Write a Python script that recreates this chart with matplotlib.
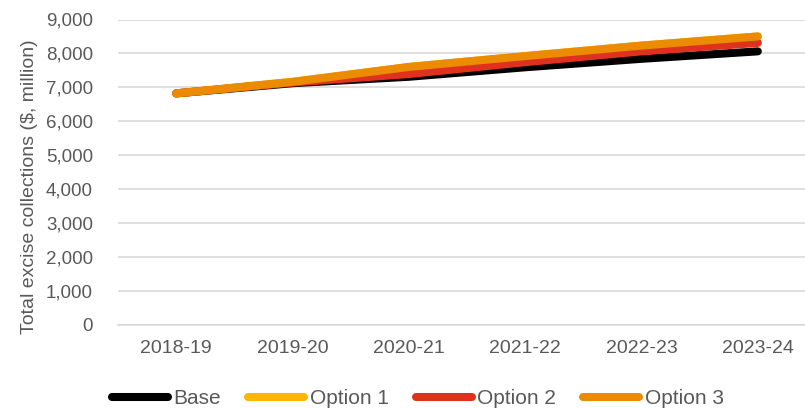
import matplotlib
matplotlib.use("Agg")
import matplotlib.pyplot as plt
from matplotlib.ticker import FuncFormatter

plt.rcParams["font.family"] = ["Liberation Sans", "DejaVu Sans"]

years = ["2018-19", "2019-20", "2020-21", "2021-22", "2022-23", "2023-24"]

base = [6820, 7120, 7310, 7590, 7840, 8060]
option_1 = [6820, 7160, 7600, 7920, 8230, 8500]
option_2 = [6820, 7140, 7390, 7740, 8060, 8310]
option_3 = [6820, 7160, 7600, 7920, 8230, 8500]

series = [
    ("Base", base, "#000000"),
    ("Option 1", option_1, "#FFB600"),
    ("Option 2", option_2, "#E0301E"),
    ("Option 3", option_3, "#EB8C00"),
]

TEXT = "#595959"
GRID = "#D9D9D9"

fig = plt.figure(figsize=(8.05, 4.08), dpi=100)
ax = fig.add_axes([118 / 805, 1 - 324.5 / 408, 698 / 805, 305 / 408])

x = list(range(len(years)))
for name, values, color in series:
    ax.plot(x, values, color=color, linewidth=5.8, solid_capstyle="round",
            solid_joinstyle="round", label=name)

ax.set_xlim(-0.5, len(years) - 0.5)
ax.set_ylim(0, 9000)
ax.set_yticks(range(0, 9001, 1000))
ax.yaxis.set_major_formatter(FuncFormatter(lambda v, _: f"{int(v):,}"))
ax.set_xticks(x)
ax.set_xticklabels(years)

ax.grid(axis="y", color=GRID, linewidth=1.2)
ax.set_axisbelow(True)
for side in ["top", "right", "left"]:
    ax.spines[side].set_visible(False)
ax.spines["bottom"].set_color(GRID)
ax.spines["bottom"].set_linewidth(1.2)

ax.tick_params(axis="y", length=0, pad=18, labelsize=13.5, labelcolor=TEXT)
ax.tick_params(axis="x", length=0, pad=11, labelsize=14, labelcolor=TEXT)

fig.text(30 / 805, 1 - 187 / 408, "Total excise collections ($, million)",
         rotation=90, ha="center", va="center", fontsize=14, color=TEXT)

fig.legend(loc="center left", bbox_to_anchor=(112 / 805, 1 - 399 / 408),
           ncol=4, frameon=False, fontsize=15, labelcolor=TEXT,
           handlelength=2.7, handletextpad=0.25, columnspacing=1.3,
           borderpad=0, borderaxespad=0)

fig.savefig("out.png", dpi=100)
